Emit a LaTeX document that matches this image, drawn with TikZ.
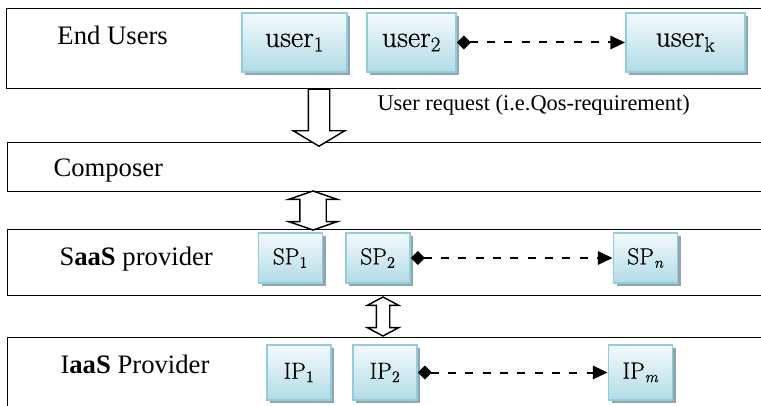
\documentclass[tikz,border=0pt]{standalone}
\usepackage{fontspec}
\newfontfamily\tnr{Liberation Serif}
\newfontfamily\boxfont{Latin Modern Roman}[FakeBold=0.5]
\usetikzlibrary{arrows.meta,shapes.arrows,shadows}
\definecolor{boxline}{RGB}{146,205,221}
\definecolor{boxtop}{RGB}{243,250,252}
\definecolor{boxbot}{RGB}{178,219,229}
\definecolor{boxshadow}{RGB}{143,166,174}
\tikzset{every picture/.style={line width=0.75pt}}

\begin{document}
\begin{tikzpicture}[x=0.75pt,y=0.75pt,yscale=-1,xscale=1,
  layer/.style={draw, line width=1.1pt, anchor=north west, minimum width=580pt, inner sep=0pt},
  layertext/.style={anchor=base west, inner sep=0pt, font=\tnr\fontsize{20}{24}\selectfont},
  ubox/.style={draw=boxline, line width=1.4pt, top color=boxtop, bottom color=boxbot, inner sep=0pt,
    drop shadow={shadow xshift=2.5pt, shadow yshift=-2.5pt, fill=boxshadow, opacity=1}},
  userbox/.style={ubox, font=\boxfont\fontsize{22.5}{26}\selectfont, minimum height=44.25pt},
  provbox/.style={ubox, font=\boxfont\fontsize{17.5}{20}\selectfont, minimum width=48pt},
  dasharrow/.style={line width=1.5pt, dash pattern=on 6pt off 7pt, {Diamond[length=10.5pt,width=10.5pt]}-{Triangle[length=11pt,width=10pt]}},
  fatarrow/.style={draw, fill=white, line width=1.1pt, inner ysep=0pt}
]
        \clip (0,0) rectangle (761,406);
        % Layers
        \node [layer, minimum height=60pt] (endusers) at (6,8) {};
        \node [layer, minimum height=36.75pt] (composer) at (7,142) {};
        \node [layer, minimum height=49.5pt] (saas) at (7,229) {};
        \node [layer, minimum height=60pt] (iaas) at (7,337) {};

        % Layer labels
        \node [layertext] (eulabel) at (57,45) {End Users};
        \node [layertext] (colabel) at (53,177) {Composer};
        \node [layertext] (salabel) at (59,266) {S\textbf{aaS} provider};
        \node [layertext] (ialabel) at (60,373) {I\textbf{aaS} Provider};
        \node [anchor=base west, inner sep=0pt, font=\tnr\fontsize{16.8}{20}\selectfont] (reqlabel) at (377,111) {User request (i.e.Qos-requirement)};

        % Hollow arrows between layers
        \node [fatarrow, single arrow, shape border rotate=270, inner xsep=7.5pt, minimum height=42.75pt, minimum width=37.5pt,
          single arrow head extend=11.25pt, single arrow tip angle=118] (req) at (319,114.5) {};
        \node [fatarrow, double arrow, shape border rotate=90, inner xsep=9.375pt, minimum height=29.25pt, minimum width=35.25pt,
          double arrow head extend=8.25pt, double arrow tip angle=142] (cosa) at (313,210.5) {};
        \node [fatarrow, double arrow, shape border rotate=90, inner xsep=4.5pt, minimum height=29.25pt, minimum width=22.5pt,
          double arrow head extend=6.75pt, double arrow tip angle=124] (saia) at (383,316.5) {};

        % End users
        \node [userbox, minimum width=78.75pt] (user1) at (294.5,42.5) {user\textsubscript{1}};
        \node [userbox, minimum width=66.75pt] (user2) at (411.5,42.5) {user\textsubscript{2}};
        \node [userbox, minimum width=89.25pt] (userk) at (685.5,42.5) {user\textsubscript{k}};
        \draw [dasharrow] (user2) -- (userk);

        % SaaS providers
        \node [provbox, minimum height=37.5pt] (sp1) at (290.5,258) {SP\textsubscript{1}};
        \node [provbox, minimum height=37.5pt] (sp2) at (378,258) {SP\textsubscript{2}};
        \node [provbox, minimum height=37.5pt] (spn) at (645.5,258) {SP\textsubscript{\itshape n}};
        \draw [dasharrow] (sp2) -- (spn);

        % IaaS providers
        \node [provbox, minimum height=41.25pt] (ip1) at (299,372.5) {IP\textsubscript{1}};
        \node [provbox, minimum height=41.25pt] (ip2) at (385,372.5) {IP\textsubscript{2}};
        \node [provbox, minimum height=41.25pt] (ipm) at (640.5,372.5) {IP\textsubscript{\itshape m}};
        \draw [dasharrow] (ip2) -- (ipm);
    \end{tikzpicture}
\end{document}
